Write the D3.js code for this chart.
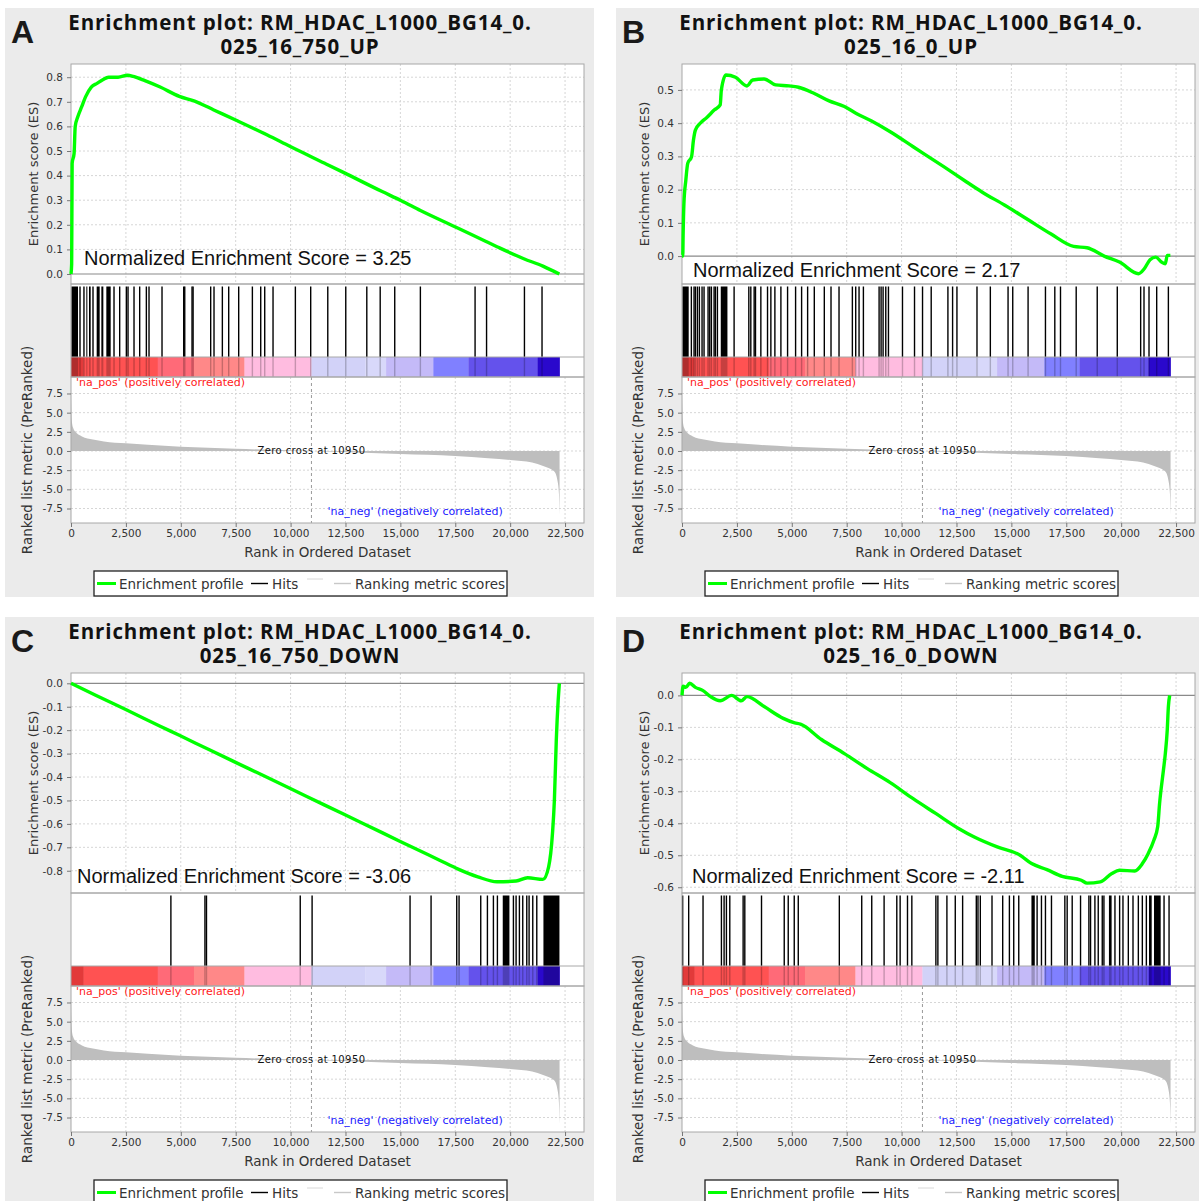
<!DOCTYPE html>
<html>
<head>
<meta charset="utf-8">
<script src="https://cdn.jsdelivr.net/npm/d3@7"></script>
<style>
  body { margin: 0; background: #fff; }
  svg text { font-family: "DejaVu Sans", sans-serif; }
</style>
</head>
<body>
<svg id="fig" width="1199" height="1201"></svg>
<script>
/*************************
 *  data
 *************************/

const N_GENES = 22250
const zeroCross = 10950
const rankTicks = [0, 2500, 5000, 7500, 10000, 12500, 15000, 17500, 20000, 22500]
const metricTicks = [-7.5, -5, -2.5, 0, 2.5, 5, 7.5]

// ranked list metric (same list in all four panels)
const metricRank  = [0, 20, 50, 100, 200, 500, 1000, 1500, 2500, 3500, 5000, 7500, 9000, 10950, 13000, 15000, 17500, 19000, 20000, 21000, 21500, 22000, 22150, 22220, 22250]
const metricValue = [7.6, 5.0, 3.6, 3.0, 2.5, 1.9, 1.5, 1.25, 1.0, 0.8, 0.56, 0.3, 0.15, 0, -0.2, -0.4, -0.65, -0.95, -1.17, -1.5, -1.95, -2.65, -3.8, -5.5, -8.3]

// colour bar under the hits
const barStops  = [0, 575, 3950, 5600, 7900, 10950, 13400, 14350, 16500, 18100, 21250, 22250]
const barColors = ["#e23a3a", "#ff5252", "#ff6a78", "#ff8888", "#ffbce0", "#d2d2f8", "#d8d8fa", "#c4baf8", "#8080ff", "#6452ec", "#2a08cc"]

const esTicksA = [0, 0.1, 0.2, 0.3, 0.4, 0.5, 0.6, 0.7, 0.8]
const esTicksB = [0, 0.1, 0.2, 0.3, 0.4, 0.5]
const esTicksC = [0, -0.1, -0.2, -0.3, -0.4, -0.5, -0.6, -0.7, -0.8]
const esTicksD = [0, -0.1, -0.2, -0.3, -0.4, -0.5, -0.6]

// running enrichment score [rank, ES]
const esA = [[0,0],[30,0.04],[52,0.45],[140,0.49],[192,0.6],[314,0.64],[488,0.68],[662,0.72],[924,0.76],[1185,0.775],[1447,0.79],[1708,0.80],[2144,0.80],[2580,0.808],[2841,0.803],[3364,0.786],[4061,0.76],[4933,0.722],[5630,0.703],[6501,0.667],[7547,0.624],[8941,0.565],[9987,0.518],[11556,0.45],[12428,0.412],[14171,0.335],[15042,0.298],[15914,0.258],[17657,0.185],[18877,0.133],[19400,0.111],[20620,0.062],[21491,0.032],[22240,0.0]]
const esB = [[0,0],[35,0.0],[52,0.067],[87,0.158],[174,0.228],[261,0.279],[435,0.299],[522,0.349],[609,0.379],[818,0.399],[1131,0.417],[1479,0.44],[1740,0.455],[1792,0.5],[2001,0.545],[2436,0.538],[2958,0.512],[3219,0.53],[3741,0.533],[4263,0.515],[4872,0.512],[5307,0.508],[6003,0.49],[6699,0.467],[7395,0.45],[7917,0.43],[8613,0.407],[9483,0.374],[10527,0.329],[11919,0.269],[12963,0.223],[13659,0.193],[14703,0.153],[15747,0.11],[16791,0.067],[17835,0.029],[18444,0.025],[19227,0],[19923,-0.018],[20793,-0.053],[21054,-0.038],[21315,-0.011],[21576,-0.003],[21837,-0.018],[22011,-0.023],[22098,0.002],[22240,0.002]]
const esC = [[0,0],[1098,-0.05],[2493,-0.112],[4061,-0.183],[4933,-0.222],[6327,-0.285],[8070,-0.363],[9987,-0.449],[11556,-0.52],[13299,-0.598],[15042,-0.677],[16785,-0.755],[17657,-0.794],[18528,-0.826],[19400,-0.847],[20271,-0.844],[20794,-0.83],[21491,-0.837],[21752,-0.783],[21927,-0.641],[22014,-0.498],[22101,-0.242],[22188,-0.071],[22240,0]]
const esD = [[0,0],[52,0.029],[174,0.025],[348,0.038],[609,0.025],[957,0.015],[1305,-0.004],[1740,-0.017],[2262,0],[2697,-0.017],[2958,-0.004],[3741,-0.035],[4611,-0.072],[5133,-0.086],[5394,-0.09],[6351,-0.138],[7395,-0.182],[8439,-0.229],[9483,-0.273],[10527,-0.323],[11571,-0.37],[12615,-0.417],[13311,-0.443],[14355,-0.474],[15399,-0.5],[15921,-0.526],[16617,-0.545],[17313,-0.566],[18183,-0.578],[18444,-0.587],[19053,-0.583],[19575,-0.557],[19923,-0.547],[20619,-0.549],[20967,-0.526],[21228,-0.495],[21489,-0.453],[21663,-0.411],[21750,-0.338],[21924,-0.234],[22011,-0.182],[22098,-0.109],[22150,-0.035],[22210,0]]

// gene set hits (ranks) and dense runs of hits [from, to]
const hitsA = [410, 590, 1002, 1959, 2217, 2521, 2597, 2870, 3128, 3432, 3553, 4145, 5132, 5180, 5512, 5560, 6361, 6513, 6893, 7182, 7637, 8260, 8640, 8822, 9201, 10218, 10916, 11694, 12513, 13471, 14081, 14743, 15911, 18402, 18925, 20650, 21451]
const blocksA = [[15, 319], [698, 744], [820, 896], [1169, 1306], [1382, 1473], [1609, 1807]]
const hitsB = [426, 548, 609, 700, 791, 913, 1004, 1187, 1263, 1339, 1461, 1521, 1613, 2373, 3043, 3134, 3286, 3347, 3591, 3895, 4047, 4230, 4504, 4808, 5173, 5447, 5721, 6025, 6481, 6786, 7151, 7759, 7911, 8063, 8261, 8976, 9067, 9158, 9280, 9402, 10041, 10589, 10954, 11349, 12110, 12323, 12521, 13434, 14042, 14849, 15062, 15761, 16552, 16978, 17237, 17952, 18910, 19823, 20888, 21040, 21268, 21618, 22150]
const blocksB = [[15, 305], [1765, 2069]]
const hitsC = [4549, 6100, 6170, 10440, 10980, 15441, 16398, 17567, 17673, 18660, 18964, 19237, 19419, 20148, 20270, 20421, 20573, 20756, 20862, 21029, 21212]
const blocksC = [[19662, 19966], [21515, 22244]]
const hitsD = [30, 304, 958, 1795, 1917, 2023, 2176, 2784, 2860, 3621, 4656, 4838, 5112, 5295, 7165, 8185, 8641, 9204, 9782, 9934, 10269, 10467, 11562, 11653, 12064, 12445, 12780, 13403, 13479, 13586, 14118, 14605, 14910, 15107, 15336, 16172, 16370, 16552, 16826, 17435, 17541, 17770, 18150, 18530, 18606, 18804, 18956, 19139, 19215, 19717, 19930, 20082, 20326, 20539, 20782, 20964, 21147, 21953, 22181]
const blocksD = [[15914, 16066], [19443, 19565], [21268, 21390], [21496, 21800]]

const panels = [
    {letter: "A", title2: "025_16_750_UP",   nes: "3.25",  es: esA, hits: hitsA, blocks: blocksA, esDomain: [-0.0407, 0.8537], esTicks: esTicksA, ox: 0,   oy: 0,   nesX: 84, nesY: 265},
    {letter: "B", title2: "025_16_0_UP",     nes: "2.17",  es: esB, hits: hitsB, blocks: blocksB, esDomain: [-0.084, 0.578],   esTicks: esTicksB, ox: 611, oy: 0,   nesX: 82, nesY: 277},
    {letter: "C", title2: "025_16_750_DOWN", nes: "-3.06", es: esC, hits: hitsC, blocks: blocksC, esDomain: [-0.895, 0.044],   esTicks: esTicksC, ox: 0,   oy: 609, nesX: 77, nesY: 274},
    {letter: "D", title2: "025_16_0_DOWN",   nes: "-2.11", es: esD, hits: hitsD, blocks: blocksD, esDomain: [-0.618, 0.070],   esTicks: esTicksD, ox: 611, oy: 609, nesX: 81, nesY: 274}
]

/*************************
 *  layout
 *************************/
const L = {left: 71, right: 584, esTop: 64, esBot: 284, barTop: 357, barBot: 377, metBot: 523}
const metric = d3.zip(metricRank, metricValue)
const svg = d3.select("#fig")

function drawPanel(p) {
    const g = svg.append("g").attr("transform", `translate(${p.ox},${p.oy})`)

    const x = d3.scaleLinear().domain([0, N_GENES * 1.05]).range([L.left, L.right])
    const yES = d3.scaleLinear().domain(p.esDomain).range([L.esBot, L.esTop])
    const yM = d3.scaleLinear().domain([-9.39, 9.65]).range([L.metBot, L.barBot])
    const W = L.right - L.left

    g.append("rect").attr("x", 5).attr("y", 8).attr("width", 589).attr("height", 589).attr("fill", "#ebebeb")

    // plot backgrounds
    g.append("rect").attr("x", L.left).attr("y", L.esTop).attr("width", W).attr("height", L.metBot - L.esTop).attr("fill", "#fff")

    // grids
    const vgrid = rankTicks.filter(d => d > 0)
    ;[[L.esTop, L.esBot], [L.barBot, L.metBot]].forEach(([y0, y1]) => {
        g.append("g").selectAll("line").data(vgrid).join("line")
            .attr("x1", d => x(d)).attr("x2", d => x(d))
            .attr("y1", y0).attr("y2", y1)
            .attr("stroke", "#d6d6d6").attr("stroke-dasharray", "2,2")
    })
    g.append("g").selectAll("line").data(p.esTicks.filter(d => d != 0)).join("line")
        .attr("x1", L.left).attr("x2", L.right)
        .attr("y1", d => yES(d)).attr("y2", d => yES(d))
        .attr("stroke", "#d6d6d6").attr("stroke-dasharray", "2,2")
    g.append("g").selectAll("line").data(metricTicks).join("line")
        .attr("x1", L.left).attr("x2", L.right)
        .attr("y1", d => yM(d)).attr("y2", d => yM(d))
        .attr("stroke", "#d6d6d6").attr("stroke-dasharray", "2,2")

    // ES zero line
    g.append("line").attr("x1", L.left).attr("x2", L.right)
        .attr("y1", yES(0)).attr("y2", yES(0))
        .attr("stroke", "#8a8a8a").attr("stroke-width", 1.2)

    // hits
    const hg = g.append("g")
    hg.selectAll("line").data(p.hits).join("line")
        .attr("x1", d => x(d)).attr("x2", d => x(d))
        .attr("y1", L.esBot + 2.5).attr("y2", L.barTop)
        .attr("stroke", "#000").attr("stroke-width", 1.4)
    hg.selectAll("rect").data(p.blocks).join("rect")
        .attr("x", d => x(d[0])).attr("width", d => x(d[1]) - x(d[0]))
        .attr("y", L.esBot + 2.5).attr("height", L.barTop - L.esBot - 2.5)
        .attr("fill", "#000")

    // colour bar
    const bars = d3.range(barColors.length).map(i => ({from: barStops[i], to: barStops[i + 1], color: barColors[i]}))
    g.append("g").selectAll("rect").data(bars).join("rect")
        .attr("x", d => x(d.from)).attr("width", d => x(d.to) - x(d.from) + 0.3)
        .attr("y", L.barTop).attr("height", L.barBot - L.barTop)
        .attr("fill", d => d.color)
    const og = g.append("g").attr("opacity", 0.22)
    og.selectAll("line").data(p.hits).join("line")
        .attr("x1", d => x(d)).attr("x2", d => x(d))
        .attr("y1", L.barTop).attr("y2", L.barBot)
        .attr("stroke", "#000").attr("stroke-width", 1.4)
    og.selectAll("rect").data(p.blocks).join("rect")
        .attr("x", d => x(d[0])).attr("width", d => x(d[1]) - x(d[0]))
        .attr("y", L.barTop).attr("height", L.barBot - L.barTop)
        .attr("fill", "#000")

    // ranked metric
    g.append("path").datum(metric)
        .attr("d", d3.area().x(d => x(d[0])).y0(yM(0)).y1(d => yM(d[1])).curve(d3.curveMonotoneX))
        .attr("fill", "#bebebe")

    // zero cross
    g.append("line").attr("x1", x(zeroCross)).attr("x2", x(zeroCross))
        .attr("y1", L.barBot).attr("y2", L.metBot)
        .attr("stroke", "#9a9a9a").attr("stroke-dasharray", "3,3")
    g.append("text").attr("x", x(zeroCross)).attr("y", 454)
        .attr("text-anchor", "middle").attr("font-size", 10).attr("letter-spacing", 0.4)
        .attr("fill", "#111").text("Zero cross at " + zeroCross)
    g.append("text").attr("x", L.left + 5).attr("y", 386)
        .attr("font-size", 11).attr("fill", "#ff2020").text("'na_pos' (positively correlated)")
    g.append("text").attr("x", x(zeroCross) + 16).attr("y", 515)
        .attr("font-size", 11).attr("fill", "#2020ff").text("'na_neg' (negatively correlated)")

    // frames
    const frame = (y0, y1) => g.append("rect").attr("x", L.left).attr("y", y0)
        .attr("width", W).attr("height", y1 - y0)
        .attr("fill", "none").attr("stroke", "#a8a8a8")
    frame(L.esTop, L.esBot)
    frame(L.esBot, L.barBot)
    frame(L.barBot, L.metBot)
    g.append("line").attr("x1", L.left).attr("x2", L.right)
        .attr("y1", L.barTop).attr("y2", L.barTop).attr("stroke", "#a8a8a8")

    // ES curve
    g.append("path").datum(p.es)
        .attr("d", d3.line().x(d => x(d[0])).y(d => yES(d[1])).curve(d3.curveMonotoneX))
        .attr("fill", "none").attr("stroke", "#00ff00").attr("stroke-width", 3.4)
        .attr("stroke-linejoin", "round")

    // axes
    const styleAxis = a => {
        a.select(".domain").remove()
        a.selectAll(".tick line").attr("stroke", "#777")
        a.selectAll(".tick text").attr("font-size", 10.5).attr("fill", "#333")
            .style("font-family", "DejaVu Sans")
    }
    g.append("g").attr("transform", `translate(${L.left},0)`)
        .call(d3.axisLeft(yES).tickValues(p.esTicks).tickSize(4).tickPadding(4).tickFormat(d => d.toFixed(1)))
        .call(styleAxis)
    g.append("g").attr("transform", `translate(${L.left},0)`)
        .call(d3.axisLeft(yM).tickValues(metricTicks).tickSize(4).tickPadding(4).tickFormat(d => d.toFixed(1)))
        .call(styleAxis)
    g.append("g").attr("transform", `translate(0,${L.metBot})`)
        .call(d3.axisBottom(x).tickValues(rankTicks).tickSize(4).tickPadding(3).tickFormat(d3.format(",")))
        .call(styleAxis)

    // axis titles
    g.append("text").attr("transform", `translate(38,${(L.esTop + L.esBot) / 2}) rotate(-90)`)
        .attr("text-anchor", "middle").attr("font-size", 13).attr("fill", "#333")
        .text("Enrichment score (ES)")
    g.append("text").attr("transform", `translate(32,${(L.barBot + L.metBot) / 2}) rotate(-90)`)
        .attr("text-anchor", "middle").attr("font-size", 13.5).attr("fill", "#333")
        .text("Ranked list metric (PreRanked)")
    g.append("text").attr("x", (L.left + L.right) / 2).attr("y", 557)
        .attr("text-anchor", "middle").attr("font-size", 13.5).attr("fill", "#333")
        .text("Rank in Ordered Dataset")

    // legend
    const lg = g.append("g")
    lg.append("rect").attr("x", 94).attr("y", 571).attr("width", 413).attr("height", 25)
        .attr("fill", "#fff").attr("stroke", "#222").attr("stroke-width", 1.3)
    const items = [
        {x1: 97, x2: 116, y: 583.5, color: "#00ff00", w: 3, label: "Enrichment profile", tx: 119},
        {x1: 251, x2: 268, y: 583.5, color: "#000", w: 1.4, label: "Hits", tx: 272},
        {x1: 307, x2: 323, y: 579, color: "#d8d8d8", w: 1, label: "", tx: 0},
        {x1: 334, x2: 351, y: 583.5, color: "#c8c8c8", w: 1.4, label: "Ranking metric scores", tx: 355}
    ]
    lg.selectAll("line").data(items).join("line")
        .attr("x1", d => d.x1).attr("x2", d => d.x2).attr("y1", d => d.y).attr("y2", d => d.y)
        .attr("stroke", d => d.color).attr("stroke-width", d => d.w)
    lg.selectAll("text").data(items.filter(d => d.label)).join("text")
        .attr("x", d => d.tx).attr("y", 588.5).attr("font-size", 13.5).attr("fill", "#333")
        .text(d => d.label)

    // titles
    g.append("text").attr("x", 11).attr("y", 43)
        .style("font-family", "Liberation Sans, Arial, sans-serif").attr("font-weight", "bold")
        .attr("font-size", 32).attr("fill", "#1a1a1a").text(p.letter)
    const tt = g.append("text").attr("text-anchor", "middle")
        .style("font-family", "Open Sans, sans-serif").attr("font-weight", 700)
        .attr("font-size", 20.5).attr("letter-spacing", 0.9).attr("fill", "#111")
    tt.append("tspan").attr("x", 300).attr("y", 30).text("Enrichment plot: RM_HDAC_L1000_BG14_0.")
    tt.append("tspan").attr("x", 300).attr("y", 54).text(p.title2)

    g.append("text").attr("x", L.left + p.nesX - 71).attr("y", p.nesY)
        .style("font-family", "Liberation Sans, Arial, sans-serif")
        .attr("font-size", 20).attr("fill", "#111")
        .text("Normalized Enrichment Score = " + p.nes)
}

panels.forEach(drawPanel)
</script>
</body>
</html>
